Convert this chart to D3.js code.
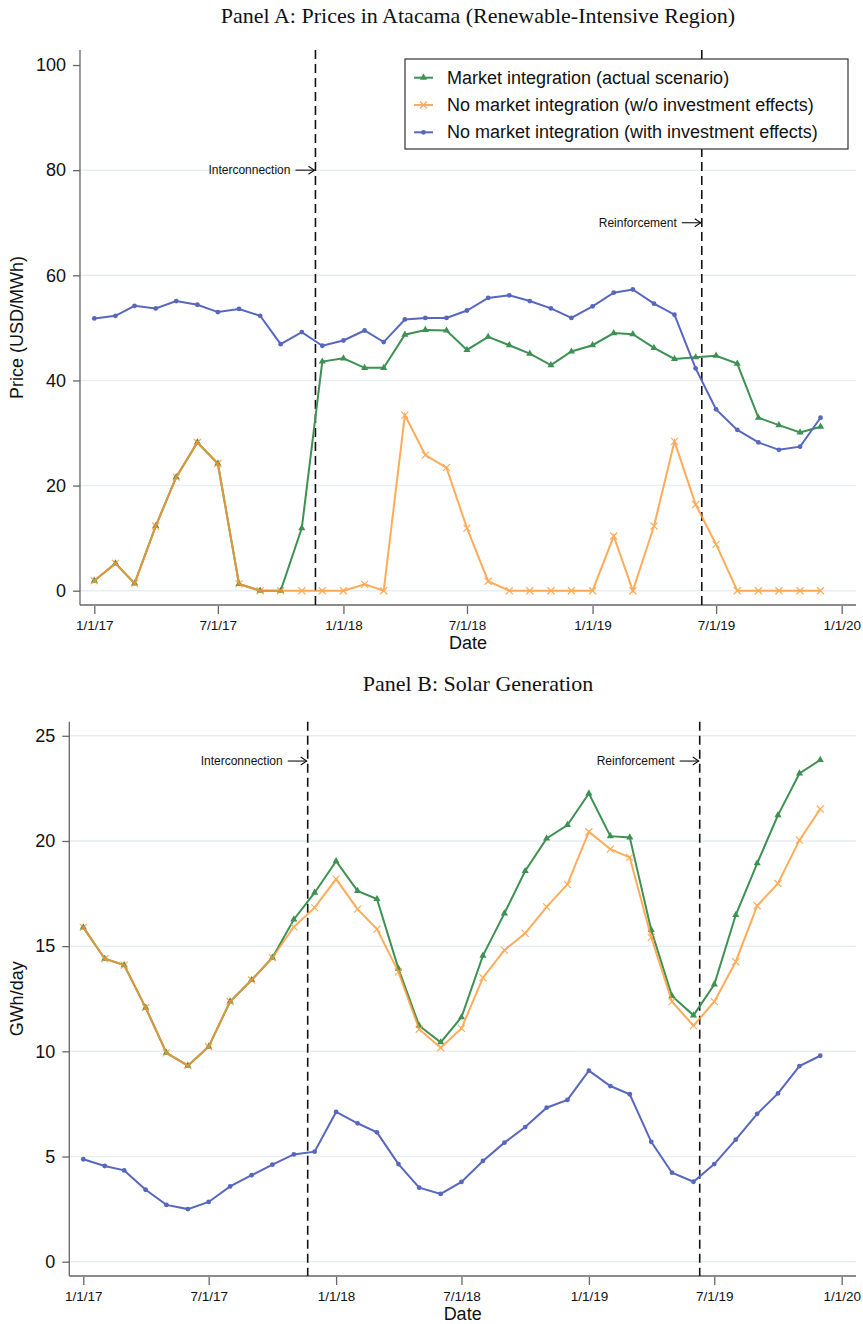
<!DOCTYPE html>
<html>
<head>
<meta charset="utf-8">
<script src="https://cdn.jsdelivr.net/npm/d3@7"></script>
<style>
  body { margin: 0; background: #fff; }
  svg { display: block; }
  text { font-family: "Liberation Sans", Arial, sans-serif; }
  .ttl { font-family: "Liberation Serif", "Times New Roman", serif; }
</style>
</head>
<body>
<svg width="863" height="1324"></svg>
<script>
// monthly observations, Jan 2017 - Dec 2019
const months = d3.range(36).map(i => new Date(2017, i, 1));

// Panel A: prices (USD/MWh)
const priceActual = [1.9, 5.2, 1.4, 12.3, 21.6, 28.2, 24.2, 1.3, 0, 0, 11.9, 43.6,
  44.2, 42.4, 42.4, 48.7, 49.6, 49.5, 45.8, 48.3, 46.7, 45.1, 42.9, 45.5,
  46.7, 49.0, 48.8, 46.2, 44.1, 44.4, 44.7, 43.2, 32.9, 31.5, 30.1, 31.2];
const priceNoIntWo = [1.9, 5.2, 1.4, 12.3, 21.6, 28.2, 24.2, 1.3, 0, 0, 0, 0,
  0, 1.2, 0, 33.4, 25.8, 23.4, 11.9, 1.8, 0, 0, 0, 0,
  0, 10.4, 0, 12.3, 28.4, 16.4, 8.8, 0, 0, 0, 0, 0];
const priceNoIntWith = [51.8, 52.3, 54.2, 53.7, 55.1, 54.4, 53.0, 53.6, 52.3, 46.9, 49.2, 46.6,
  47.6, 49.5, 47.3, 51.6, 51.9, 51.9, 53.3, 55.7, 56.2, 55.1, 53.7, 51.9,
  54.1, 56.7, 57.3, 54.6, 52.5, 42.3, 34.5, 30.6, 28.2, 26.8, 27.4, 32.9];

// Panel B: solar generation (GWh/day)
const solarActual = [15.89, 14.4, 14.1, 12.08, 9.93, 9.32, 10.22, 12.37, 13.39, 14.45, 16.27, 17.54,
  19.04, 17.63, 17.24, 13.93, 11.22, 10.43, 11.62, 14.55, 16.56, 18.57, 20.12, 20.76,
  22.26, 20.23, 20.17, 15.77, 12.63, 11.71, 13.18, 16.48, 18.94, 21.23, 23.21, 23.85];
const solarNoIntWo = [15.89, 14.4, 14.1, 12.08, 9.93, 9.32, 10.22, 12.37, 13.39, 14.45, 15.92, 16.83,
  18.19, 16.76, 15.81, 13.78, 11.05, 10.17, 11.09, 13.5, 14.81, 15.61, 16.87, 17.94,
  20.44, 19.61, 19.22, 15.42, 12.36, 11.22, 12.36, 14.26, 16.92, 17.98, 20.04, 21.52];
const solarNoIntWith = [4.87, 4.55, 4.34, 3.42, 2.7, 2.5, 2.84, 3.58, 4.11, 4.61, 5.1, 5.23,
  7.12, 6.58, 6.15, 4.64, 3.52, 3.22, 3.79, 4.79, 5.66, 6.40, 7.32, 7.69,
  9.08, 8.35, 7.96, 5.70, 4.23, 3.80, 4.64, 5.8, 7.03, 8.0, 9.30, 9.79];

const seriesNames = ["Market integration (actual scenario)",
  "No market integration (w/o investment effects)",
  "No market integration (with investment effects)"];
const seriesColors = ["#3d9152", "#ff9a35", "#5767be"];
const seriesSymbols = ["triangle", "cross", "circle"];

const xTicks = d3.range(7).map(i => new Date(2017, i * 6, 1));
const eventNames = ["Interconnection", "Reinforcement"];
const eventDates = [new Date(2017, 10, 21), new Date(2019, 5, 10)];
const eventLabelA = [80, 70];
const eventLabelB = [23.8, 23.8];

const yTicksA = [0, 20, 40, 60, 80, 100];
const yTicksB = [0, 5, 10, 15, 20, 25];

const svg = d3.select("svg");
const fmt = d3.timeFormat("%-m/%-d/%y");

function symbol(g, kind, x, y, color) {
  if (kind === "triangle") {
    g.append("path").attr("d", d3.symbol(d3.symbolTriangle, 22)())
      .attr("transform", `translate(${x},${y})`).attr("fill", color);
  } else if (kind === "circle") {
    g.append("circle").attr("cx", x).attr("cy", y).attr("r", 2.4).attr("fill", color);
  } else {
    g.append("path").attr("d", `M${x-3.5},${y-3.5}L${x+3.5},${y+3.5}M${x-3.5},${y+3.5}L${x+3.5},${y-3.5}`)
      .attr("stroke", color).attr("stroke-width", 1.2);
  }
}

function panel(cfg) {
  const g = svg.append("g");
  const x = d3.scaleTime().domain([new Date(2017, 0, 1), new Date(2020, 0, 1)]).range(cfg.xr);
  const y = d3.scaleLinear().domain(cfg.yd).range([cfg.bottom, cfg.top]);

  // title
  g.append("text").attr("class", "ttl").attr("x", 478).attr("y", cfg.titleY)
    .attr("text-anchor", "middle").attr("font-size", 22).attr("fill", "#111").text(cfg.title);

  // grid
  g.selectAll(".grid").data(cfg.grid).enter().append("line")
    .attr("x1", cfg.left).attr("x2", 856)
    .attr("y1", d => y(d)).attr("y2", d => y(d))
    .attr("stroke", "#e6eef1").attr("stroke-width", 1.5);

  // y axis
  const ya = g.append("g").attr("transform", `translate(${cfg.left},0)`)
    .call(d3.axisLeft(y).tickValues(cfg.yTicks).tickSize(7).tickPadding(7).tickFormat(d3.format("d")));
  ya.select(".domain").attr("d", `M0,${cfg.top}V${cfg.bottom}`).attr("stroke", "#666").attr("stroke-width", 1.3);
  ya.selectAll(".tick line").attr("stroke", "#666").attr("stroke-width", 1.3);
  ya.selectAll(".tick text").attr("font-size", 18).attr("fill", "#111")
    .attr("font-family", "Liberation Sans, Arial, sans-serif");

  // x axis
  const xa = g.append("g").attr("transform", `translate(0,${cfg.bottom})`)
    .call(d3.axisBottom(x).tickValues(xTicks).tickSize(9).tickPadding(6).tickFormat(fmt));
  xa.select(".domain").attr("d", `M${cfg.left},0H856`).attr("stroke", "#666").attr("stroke-width", 1.3);
  xa.selectAll(".tick line").attr("stroke", "#666").attr("stroke-width", 1.3).attr("y1", 1);
  xa.selectAll(".tick text").attr("font-size", 13.5).attr("fill", "#111")
    .attr("font-family", "Liberation Sans, Arial, sans-serif");

  // axis titles
  g.append("text").attr("x", (cfg.left + 856) / 2).attr("y", cfg.bottom + 44)
    .attr("text-anchor", "middle").attr("font-size", 18).attr("fill", "#111").text("Date");
  g.append("text").attr("transform", `translate(23,${(cfg.top + cfg.bottom) / 2}) rotate(-90)`)
    .attr("text-anchor", "middle").attr("font-size", 18).attr("fill", "#111").text(cfg.yLabel);

  // event lines
  eventDates.forEach((d, i) => {
    const ex = x(d);
    g.append("line").attr("x1", ex).attr("x2", ex).attr("y1", cfg.top).attr("y2", cfg.bottom)
      .attr("stroke", "#111").attr("stroke-width", 1.6).attr("stroke-dasharray", "9,5");
    const ly = y(cfg.eventY[i]);
    g.append("line").attr("x1", ex - 20).attr("x2", ex - 1).attr("y1", ly).attr("y2", ly)
      .attr("stroke", "#111").attr("stroke-width", 1.1);
    g.append("path").attr("d", `M${ex-7},${ly-4}L${ex-1},${ly}L${ex-7},${ly+4}`)
      .attr("fill", "none").attr("stroke", "#111").attr("stroke-width", 1.1);
    g.append("text").attr("x", ex - 25).attr("y", ly + 4).attr("text-anchor", "end")
      .attr("font-size", 12).attr("fill", "#111").text(eventNames[i]);
  });

  // series
  const line = d3.line().x((d, i) => x(months[i])).y(d => y(d));
  cfg.series.forEach((s, k) => {
    const sg = g.append("g").attr("opacity", k === 1 ? 0.82 : 1);
    sg.append("path").attr("d", line(s)).attr("fill", "none")
      .attr("stroke", seriesColors[k]).attr("stroke-width", 2);
    s.forEach((v, i) => symbol(sg, seriesSymbols[k], x(months[i]), y(v), seriesColors[k]));
  });
  return g;
}

panel({
  title: "Panel A: Prices in Atacama (Renewable-Intensive Region)", titleY: 23,
  xr: [94.3, 841.7], left: 80, top: 50, bottom: 605, yd: [-2.72, 102.86],
  yTicks: yTicksA, grid: [0, 20, 40, 60, 80], yLabel: "Price (USD/MWh)",
  eventY: eventLabelA, series: [priceActual, priceNoIntWo, priceNoIntWith]
});

panel({
  title: "Panel B: Solar Generation", titleY: 691,
  xr: [83.3, 841.7], left: 69.3, top: 721.7, bottom: 1276, yd: [-0.68, 25.67],
  yTicks: yTicksB, grid: yTicksB, yLabel: "GWh/day",
  eventY: eventLabelB, series: [solarActual, solarNoIntWo, solarNoIntWith]
});

// legend (Panel A)
const lg = svg.append("g");
lg.append("rect").attr("x", 405).attr("y", 59).attr("width", 443).attr("height", 90)
  .attr("fill", "#fff").attr("stroke", "#333").attr("stroke-width", 1.2);
seriesNames.forEach((n, k) => {
  const ly = 77.7 + k * 27.3;
  const eg = lg.append("g").attr("opacity", k === 1 ? 0.82 : 1);
  eg.append("line").attr("x1", 414).attr("x2", 433).attr("y1", ly).attr("y2", ly)
    .attr("stroke", seriesColors[k]).attr("stroke-width", 2);
  symbol(eg, seriesSymbols[k], 423.5, ly, seriesColors[k]);
  lg.append("text").attr("x", 447).attr("y", ly + 6).attr("font-size", 18).attr("fill", "#111").text(n);
});
</script>
</body>
</html>
